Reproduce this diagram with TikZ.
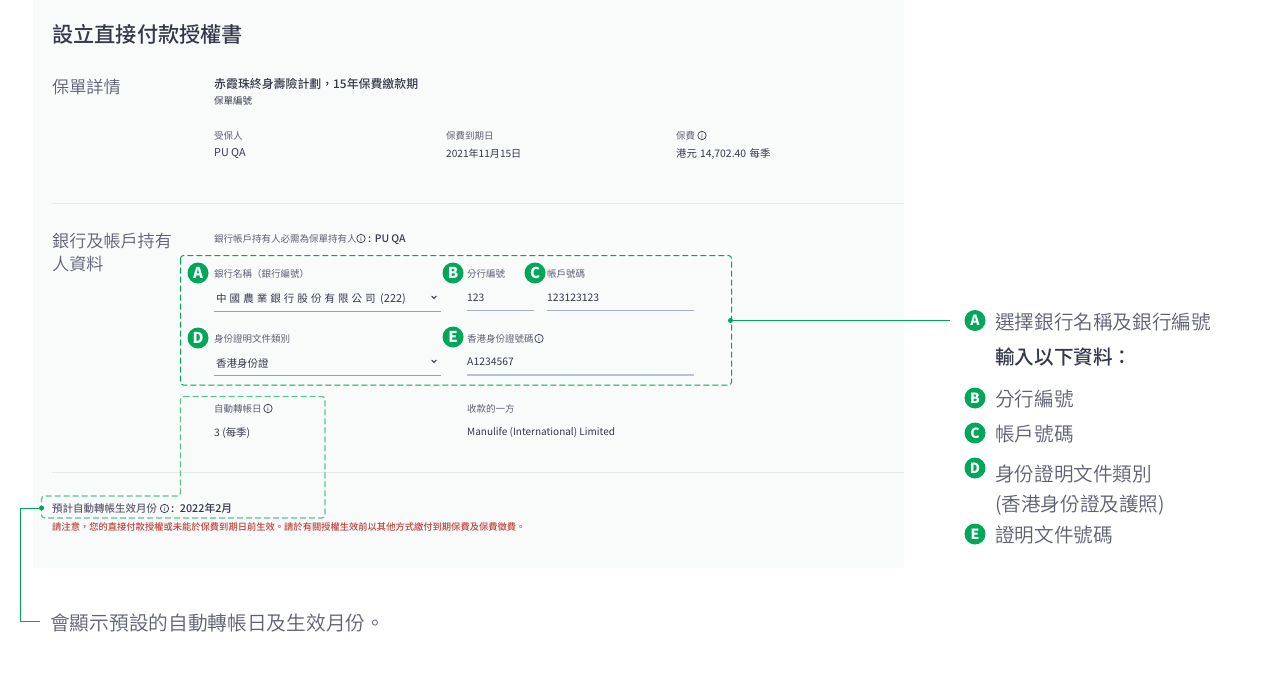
\documentclass[tikz,border=0pt]{standalone}
\usepackage{fontspec}
\setmainfont{Noto Sans CJK TC}
\newfontfamily\medf{Noto Sans CJK TC Medium}
\newfontfamily\lightf{Noto Sans CJK TC DemiLight}
\usetikzlibrary{calc}
\definecolor{mgreen}{HTML}{00A758}
\definecolor{ink}{HTML}{34384B}
\definecolor{soft}{HTML}{5E6073}
\definecolor{panel}{HTML}{F9FBFB}
\definecolor{sep}{HTML}{E6E8EA}
\definecolor{ul}{HTML}{A9B0C6}
\definecolor{ulg}{HTML}{9AA3A3}
\definecolor{warn}{HTML}{C0403A}
\newcommand{\fs}[1]{\fontsize{#1}{#1}\selectfont}
\tikzset{
  x=1pt,y=-1pt,
  txt/.style={anchor=west,inner sep=0pt,yshift=-.8pt,text=ink,font=\fs{10.4}},
  small/.style={txt,text=soft,font=\fs{9.5}},
  sect/.style={txt,text=soft,font=\lightf\fs{17.1}},
  note/.style={txt,text=soft,font=\lightf\fs{19.6}},
  badge/.style={circle,fill=mgreen,text=white,inner sep=0pt,minimum size=21pt,font=\fs{15}\bfseries},
  rbadge/.style={badge,font=\fs{14}\bfseries},
  dot/.style={circle,fill=mgreen,inner sep=0pt,minimum size=5pt},
  icon/.style={circle,draw=ink,line width=.7pt,inner sep=0pt,minimum size=8.4pt,text=ink,font=\fs{6.5}},
  dashbox/.style={draw=mgreen,line width=1pt,dash pattern=on 6pt off 3pt,rounded corners=3pt},
  leader/.style={draw=mgreen,line width=1pt},
  rule/.style={line width=1pt},
  chev/.style={draw=ink,line width=1pt,line cap=round,line join=round},
}
\begin{document}
\begin{tikzpicture}
\useasboundingbox (0,0) rectangle (1280,677);
\fill[white] (0,0) rectangle (1280,677);
\fill[panel] (33,0) rectangle (904,568);
\draw[sep,rule] (52,203) -- (904,203);
\draw[sep,rule] (52,472.5) -- (904,472.5);

% header
\node[txt,font=\medf\fs{21.2}] (title) at (52,33.5) {設立直接付款授權書};
\node[sect] (s1) at (52,86) {保單詳情};
\node[txt,font=\medf\fs{11.9}] (plan) at (214,83) {赤霞珠終身壽險計劃，15年保費繳款期};
\node[small,text=ink] (polno) at (214,100) {保單編號};
\node[small] (l1) at (214,135) {受保人};
\node[txt,font=\fs{10.8}] (v1) at (214,153) {PU QA};
\node[small] (l2) at (446,135) {保費到期日};
\node[txt,font=\fs{10.1}] (v2) at (446,153) {2021年11月15日};
\node[small] (l3) at (676,135) {保費};
\node[icon] (i3) at (702,135.5) {i};
\node[txt] (v3) at (676,153) {港元\hspace{3pt}14,702.40\hspace{3.5pt}每季};

% bank section
\node[sect] (s2a) at (52,240) {銀行及帳戶持有};
\node[sect] (s2b) at (52,263) {人資料};
\node[small] (hold) at (214,238.5) {銀行帳戶持有人必需為保單持有人};
\node[icon] (i4) at (361,238.5) {i};
\node[txt,font=\medf\fs{10.4}] (holdv) at (368,238.5) {:\hspace{3.5pt}PU QA};

\node[small] (f1) at (214,273) {銀行名稱（銀行編號）};
\node[txt,font=\fs{10.5}\addfontfeature{LetterSpace=29}] (bank) at (216,298) {中國農業銀行股份有限公司};
\node[txt,font=\fs{11}] (bankc) at (380,298) {(222)};
\draw[chev] (431.8,296.2) -- (434,298.4) -- (436.2,296.2);
\draw[ulg,rule] (214,311.5) -- (441,311.5);

\node[small] (f2) at (467,273) {分行編號};
\node[txt] (v4) at (467,297) {123};
\draw[ul,rule] (467,310.5) -- (534,310.5);
\node[small] (f3) at (547,273) {帳戶號碼};
\node[txt] (v5) at (547,297) {123123123};
\draw[ul,rule] (547,310.5) -- (693.5,310.5);

\node[small] (f4) at (214,338) {身份證明文件類別};
\node[txt,font=\fs{10.5}] (v6) at (216,362.5) {香港身份證};
\draw[chev] (431.8,360.2) -- (434,362.4) -- (436.2,360.2);
\draw[ulg,rule] (214,375.5) -- (441,375.5);

\node[small] (f5) at (467,338) {香港身份證號碼};
\node[icon] (i5) at (539,338.5) {i};
\node[txt] (v7) at (467,361) {A1234567};
\draw[ul!70!sep,line width=1.4pt] (467,375) -- (693.5,375);

\node[small] (f6) at (214,408) {自動轉帳日};
\node[icon] (i6) at (268,408.5) {i};
\node[txt] (v8) at (214,432) {3 (每季)};
\node[small] (f7) at (467,408) {收款的一方};
\node[txt,font=\fs{10}] (v9) at (467,432) {Manulife (International) Limited};

\node[txt,text=soft,font=\medf\fs{10.5}] (eff) at (52,508) {預計自動轉帳生效月份};
\node[icon] (i7) at (164.5,508.5) {i};
\node[txt,font=\medf\fs{10.8}] (effv) at (171,508) {:\hspace{5.5pt}2022年2月};
\node[txt,text=warn,font=\medf\fs{9.28}] (warnt) at (52,526.5) {請注意，您的直接付款授權或未能於保費到期日前生效。請於有關授權生效前以其他方式繳付到期保費及保費徵費。};

% dashed frames
\draw[dashbox] (180.5,255.5) rectangle (731.5,385);
\draw[dashbox,draw=mgreen!65!panel,line width=1.3pt] (180.5,396.5) -- (325,396.5) -- (325,518) -- (41.5,518) -- (41.5,496) -- (180.5,496) -- cycle;

% badges in form
\node[badge] (ba) at (198,273) {A};
\node[badge] (bb) at (453,273) {B};
\node[badge] (bc) at (535,273) {C};
\node[badge] (bd) at (198,338) {D};
\node[badge] (be) at (453,337) {E};

% right notes
\node[dot] (d1) at (730.5,320.5) {};
\coordinate (d1end) at (950,320.5);
\draw[leader] (d1) -- (d1end);
\node[rbadge] (ra) at (975,320.5) {A};
\node[note] (n1) at (995,321) {選擇銀行名稱及銀行編號};
\node[note,text=ink,font=\medf\fs{19.6}] (n2) at (995,356.5) {輸入以下資料：};
\node[rbadge] (rb) at (975,398) {B};
\node[note] (n3) at (995,398) {分行編號};
\node[rbadge] (rc) at (975,433) {C};
\node[note] (n4) at (995,433) {帳戶號碼};
\node[rbadge] (rd) at (975,468) {D};
\node[note] (n5) at (995,473.5) {身份證明文件類別};
\node[note] (n6) at (995,504.5) {(香港身份證及護照)};
\node[rbadge] (re) at (975,534) {E};
\node[note] (n7) at (995,534.5) {證明文件號碼};

% bottom note
\node[dot] (d2) at (41.5,508) {};
\node[note,font=\lightf\fs{19.7}] (n8) at (50,622) {會顯示預設的自動轉帳日及生效月份。};
\coordinate (d2end) at (40,621);
\draw[leader] (d2) -- (20,508) -- (20,621) -- (d2end);
\end{tikzpicture}
\end{document}
